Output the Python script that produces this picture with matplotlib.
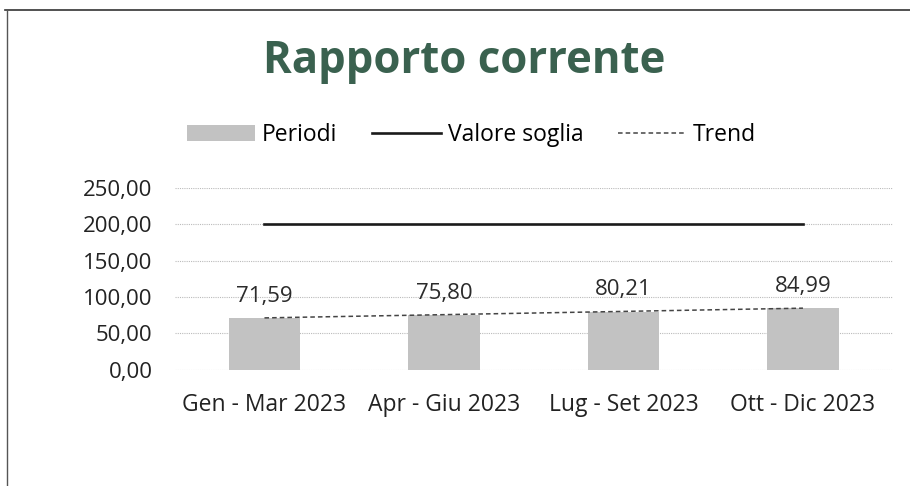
import numpy as np
import matplotlib
matplotlib.use("Agg")
import matplotlib.pyplot as plt
from matplotlib.lines import Line2D
from matplotlib.patches import Patch

plt.rcParams['font.family'] = ['Open Sans', 'DejaVu Sans']

periodi = ["Gen - Mar 2023", "Apr - Giu 2023", "Lug - Set 2023", "Ott - Dic 2023"]
valori = [71.59, 75.80, 80.21, 84.99]
soglia = [200, 200, 200, 200]
yticks = [0, 50, 100, 150, 200, 250]

def fmt(v):
    return f"{v:.2f}".replace(".", ",")

fig = plt.figure(figsize=(9.1, 4.86), dpi=100)
ax = fig.add_axes([0.192, 0.239, 0.789, 0.374])

x = np.arange(len(periodi))
ax.bar(x, valori, width=0.4, color="#c2c2c2", zorder=2)
ax.plot(x, soglia, color="#1a1a1a", lw=1.9, zorder=3)

# linear trend on the bar values
coef = np.polyfit(x, valori, 1)
ax.plot(x, np.polyval(coef, x), color="#444444", lw=1.1, ls=(0, (3, 2)), zorder=3)

for xi, v in zip(x, valori):
    ax.annotate(fmt(v), (xi, v), xytext=(0, 8), textcoords="offset points",
                ha="center", va="bottom", fontsize=16, color="#2b2b2b")

ax.set_xlim(-0.5, len(periodi) - 0.5)
ax.set_ylim(0, 250)
ax.set_yticks(yticks)
ax.set_yticklabels([fmt(t) for t in yticks], fontsize=16, color="#222222")
ax.set_xticks(x)
ax.set_xticklabels(periodi, fontsize=16.5, color="#222222")
ax.tick_params(axis="both", length=0)
ax.tick_params(axis="y", pad=16)
ax.tick_params(axis="x", pad=17)
ax.grid(axis="y", color="#bbbbbb", lw=0.8, ls=(0, (1, 1)), zorder=0)
for s in ax.spines.values():
    s.set_visible(False)

fig.text(0.510, 0.850, "Rapporto corrente", ha="center", va="baseline",
         fontsize=31.5, fontweight="bold", color="#3a614f")

handles = [Patch(facecolor="#c2c2c2"),
           Line2D([0], [0], color="#1a1a1a", lw=1.9),
           Line2D([0], [0], color="#444444", lw=1.1, ls=(0, (3, 2)))]
fig.legend(handles, ["Periodi", "Valore soglia", "Trend"], loc="center",
           bbox_to_anchor=(0.518, 0.722), ncol=3, frameon=False, fontsize=16.5,
           handlelength=3.0, handletextpad=0.3, columnspacing=1.5)

# border of the scanned frame
fig.add_artist(Line2D([0.006, 1.0], [0.979, 0.979], color="#333333", lw=1.2, transform=fig.transFigure))
fig.add_artist(Line2D([0.008, 0.008], [0.0, 0.979], color="#555555", lw=1.0, transform=fig.transFigure))

fig.savefig("out.png", dpi=100)
